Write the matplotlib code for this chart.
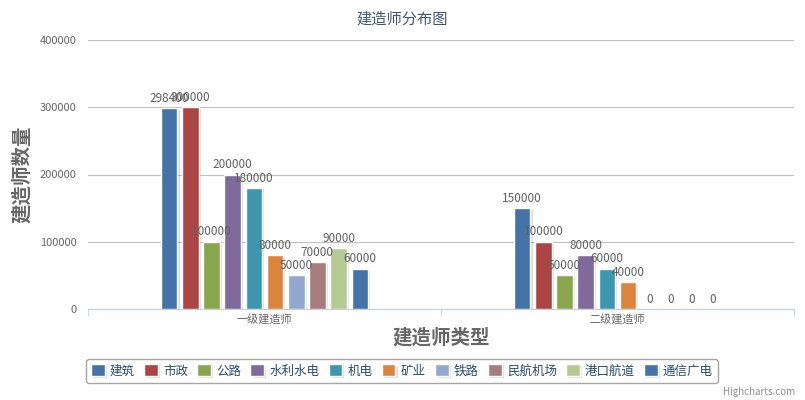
import numpy as np
import matplotlib
matplotlib.use('Agg')
from matplotlib import pyplot as plt
import matplotlib.patheffects as pe

plt.rcParams['font.family'] = ['Noto Sans CJK SC', 'DejaVu Sans']

categories = ['一级建造师', '二级建造师']
series_names = ['建筑', '市政', '公路', '水利水电', '机电', '矿业', '铁路', '民航机场', '港口航道', '通信广电']
level1 = [298400, 300000, 100000, 200000, 180000, 80000, 50000, 70000, 90000, 60000]
level2 = [150000, 100000, 50000, 80000, 60000, 40000, 0, 0, 0, 0]
colors = ['#4572A7', '#AA4643', '#89A54E', '#80699B', '#3D96AE',
          '#DB843D', '#92A8CD', '#A47D7C', '#B5CA92', '#4572A7']
yticks = [0, 100000, 200000, 300000, 400000]

fig = plt.figure(figsize=(8.05, 4), dpi=100)
ax = fig.add_axes([88/805, 91/400, (794-88)/805, (309-40)/400])

n = len(series_names)
group = 0.6
slot = group / n
bw = slot * 0.78
x = np.arange(len(categories))
shadow = [pe.SimplePatchShadow(offset=(1.5, -1.5), alpha=0.15), pe.Normal()]
for i, name in enumerate(series_names):
    vals = [level1[i], level2[i]]
    pos = x - group / 2 + slot * (i + 0.5)
    bars = ax.bar(pos, vals, width=bw, color=colors[i], edgecolor='white',
                  linewidth=1, label=name, zorder=3)
    for b in bars:
        b.set_path_effects(shadow)
    for p, v in zip(pos, vals):
        ax.text(p, v + 5000, str(v), ha='center', va='bottom',
                fontsize=8.5, color='#606060', zorder=4)

ax.set_xlim(-0.5, 1.5)
ax.set_ylim(0, 400000)
ax.set_yticks(yticks)
ax.set_yticklabels([str(t) for t in yticks])
ax.set_xticks(x)
ax.set_xticklabels(categories)
ax.set_xticks([-0.5, 0.5, 1.5], minor=True)
ax.tick_params(axis='x', which='major', length=0, pad=4, labelsize=8, labelcolor='#666666')
ax.tick_params(axis='x', which='minor', length=5, color='#C0D0E0', direction='out')
ax.tick_params(axis='y', length=0, pad=8, labelsize=8, labelcolor='#666666')
ax.grid(axis='y', color='#C0C0C0', linewidth=0.8, zorder=0)
for s in ['top', 'right', 'left']:
    ax.spines[s].set_visible(False)
ax.spines['bottom'].set_color('#C0D0E0')

ax.set_xlabel('建造师类型', fontsize=14, fontweight='bold', color='#666666', labelpad=2)
ax.set_ylabel('建造师数量', fontsize=14, fontweight='bold', color='#666666', labelpad=6)
fig.text(0.5, 1 - 19/400, '建造师分布图', ha='center', va='center', fontsize=11, color='#3E576F')

leg = fig.legend(loc='center', bbox_to_anchor=(402/805, 1 - 371/400), ncol=n,
                 frameon=True, fontsize=9, handlelength=1.1, handleheight=1.1,
                 handletextpad=0.4, columnspacing=0.75, borderpad=0.4,
                 fancybox=True)
leg.get_frame().set_edgecolor('#909090')
leg.get_frame().set_linewidth(1)
for t in leg.get_texts():
    t.set_color('#274b6d')

fig.text(795/805, 1 - 392/400, 'Highcharts.com', ha='right', va='center', fontsize=7, color='#909090')

fig.savefig('out.png', dpi=100)
